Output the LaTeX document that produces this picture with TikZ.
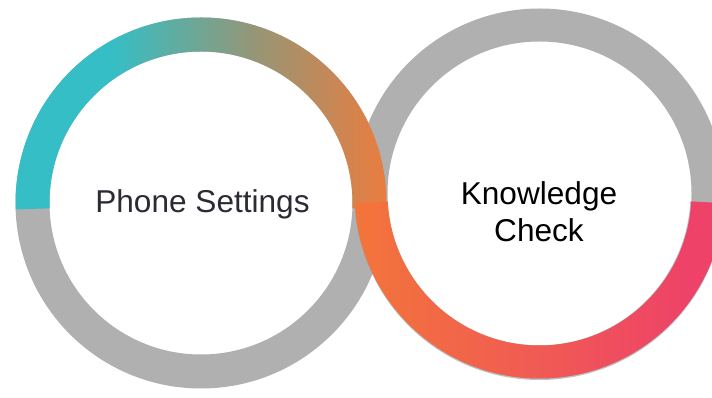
\documentclass[tikz,border=0pt]{standalone}
\usepackage{fontspec}
\setmainfont{Liberation Sans}
\usetikzlibrary{calc}
\definecolor{ringgray}{RGB}{176,176,176}
\definecolor{rteal}{RGB}{53,190,197}
\definecolor{rmid}{RGB}{150,150,118}
\definecolor{rorangeA}{RGB}{236,124,62}
\definecolor{rorangeB}{RGB}{243,117,58}
\definecolor{rmidB}{RGB}{240,88,86}
\definecolor{rpink}{RGB}{238,66,104}
\definecolor{labeldark}{RGB}{43,43,54}
\definecolor{shadowgray}{RGB}{150,150,150}
\pgfdeclarehorizontalshading{leftarc}{100bp}{color(0bp)=(rteal); color(25bp)=(rteal); color(38bp)=(rteal); color(57bp)=(rmid); color(75bp)=(rorangeA); color(100bp)=(rorangeA)}
\pgfdeclarehorizontalshading{rightarc}{100bp}{color(0bp)=(rorangeB); color(25bp)=(rorangeB); color(52bp)=(rmidB); color(70bp)=(rpink); color(100bp)=(rpink)}
\tikzset{
  label text/.style={font=\fontsize{31.6}{37}\selectfont, align=center, inner sep=0pt},
}
\begin{document}
\begin{tikzpicture}[x=1pt,y=1pt]
\useasboundingbox (0,0) rectangle (712,398);
\clip (0,0) rectangle (712,398);
\fill[white] (0,0) rectangle (712,398);
\coordinate (c1) at (201,195);
\coordinate (c2) at (539.5,204.5);
% gray rings
\fill[ringgray, even odd rule] (c1) circle[radius=185.5] (c1) circle[radius=151.5];
\fill[ringgray, even odd rule] (c2) circle[radius=185] (c2) circle[radius=152];
% left coloured arc
\shade[shading=leftarc] ($(c1)+(-2:185.5)$) arc[start angle=-2, end angle=182, radius=185.5]
  -- ($(c1)+(182:151.5)$) arc[start angle=182, end angle=-2, radius=151.5] -- cycle;
% shadow of right coloured arc
\fill[shadowgray, opacity=0.6] ($(c2)+(183:185)+(0,-1.5)$) arc[start angle=183, end angle=357, radius=185]
  -- ($(c2)+(357:152)+(-1,0)$) arc[start angle=357, end angle=183, radius=152] -- cycle;
% right coloured arc
\shade[shading=rightarc] ($(c2)+(183:185)$) arc[start angle=183, end angle=357, radius=185]
  -- ($(c2)+(357:152)$) arc[start angle=357, end angle=183, radius=152] -- cycle;
% labels
\node[label text, text=labeldark, anchor=base] (ps) at (202.5,185) {Phone Settings};
\node[label text, text=black, anchor=base] (kc) at (539,156) {Knowledge\\Check};
\end{tikzpicture}
\end{document}
